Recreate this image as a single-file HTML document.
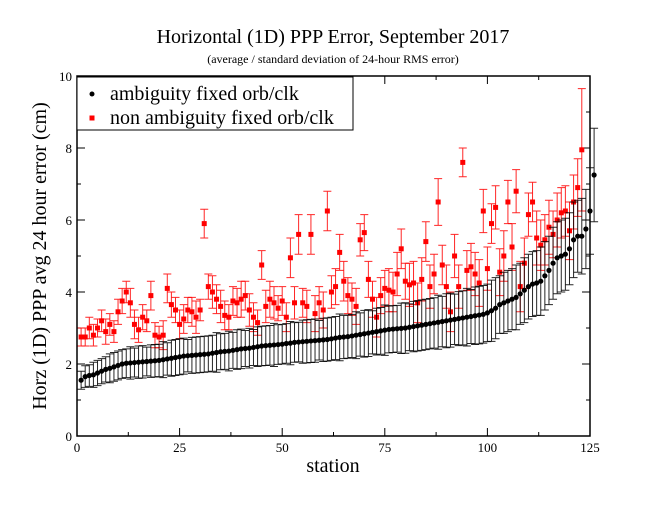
<!DOCTYPE html>
<html><head><meta charset="utf-8"><style>
body{margin:0;background:#fff;}
svg{display:block;font-family:"Liberation Serif",serif;}
</style></head><body>
<svg id="chart" width="664" height="513" viewBox="0 0 664 513" xmlns="http://www.w3.org/2000/svg">
<text x="333" y="43" font-size="20" text-anchor="middle">Horizontal (1D) PPP Error, September 2017</text>
<text x="333" y="63" font-size="12" text-anchor="middle">(average / standard deviation of 24-hour RMS error)</text>
<text transform="translate(46,256) rotate(-90)" font-size="20" text-anchor="middle">Horz (1D) PPP avg 24 hour error (cm)</text>
<text x="333" y="472" font-size="20" text-anchor="middle">station</text>
<g id="grid"></g>
<g id="marks"></g>
<rect x="77" y="76" width="513" height="360" fill="none" stroke="#000" stroke-width="1.5"/>
<g>
<rect x="77" y="77" width="276" height="53" fill="#fff" stroke="#000" stroke-width="1"/>
<circle cx="92" cy="94" r="2.5" fill="#000"/>
<text x="110" y="100" font-size="20">ambiguity fixed orb/clk</text>
<rect x="89.5" y="115.5" width="5" height="5" fill="#f00"/>
<text x="110" y="124" font-size="20">non ambiguity fixed orb/clk</text>
</g>
</svg>
<script>
const fixedVals=[1.55,1.65,1.68,1.7,1.75,1.8,1.85,1.88,1.92,1.96,2.0,2.02,2.03,2.04,2.05,2.06,2.07,2.08,2.09,2.1,2.12,2.14,2.16,2.18,2.2,2.22,2.23,2.24,2.25,2.26,2.27,2.28,2.3,2.32,2.34,2.35,2.36,2.38,2.4,2.42,2.43,2.44,2.46,2.48,2.5,2.51,2.52,2.53,2.54,2.55,2.57,2.58,2.6,2.61,2.62,2.63,2.64,2.65,2.66,2.67,2.68,2.7,2.72,2.74,2.75,2.76,2.78,2.8,2.82,2.84,2.86,2.88,2.9,2.92,2.94,2.96,2.97,2.98,2.99,3.0,3.02,3.04,3.06,3.08,3.1,3.12,3.14,3.16,3.18,3.2,3.22,3.24,3.26,3.28,3.3,3.32,3.34,3.36,3.38,3.42,3.48,3.55,3.65,3.7,3.75,3.8,3.85,3.95,4.05,4.15,4.22,4.25,4.3,4.45,4.6,4.8,4.95,5.0,5.05,5.2,5.45,5.55,5.55,5.75,6.25,7.25];
const fixedErr=[0.25,0.3,0.3,0.35,0.35,0.35,0.35,0.4,0.4,0.4,0.4,0.4,0.45,0.4,0.45,0.45,0.4,0.45,0.45,0.45,0.5,0.45,0.5,0.5,0.5,0.5,0.45,0.5,0.5,0.5,0.5,0.5,0.5,0.55,0.5,0.5,0.55,0.5,0.55,0.55,0.5,0.55,0.5,0.55,0.55,0.55,0.55,0.6,0.55,0.55,0.55,0.6,0.55,0.55,0.6,0.6,0.6,0.6,0.55,0.6,0.6,0.6,0.6,0.65,0.6,0.6,0.6,0.65,0.6,0.65,0.65,0.6,0.65,0.65,0.7,0.65,0.65,0.65,0.7,0.7,0.65,0.7,0.7,0.7,0.7,0.7,0.7,0.75,0.7,0.75,0.75,0.7,0.75,0.75,0.8,0.75,0.8,0.8,0.8,0.8,0.85,0.85,0.8,0.85,0.85,0.85,0.9,0.85,0.9,0.9,0.9,0.9,0.95,0.95,0.95,1.0,1.0,1.0,1.0,1.0,1.05,1.0,1.05,1.1,1.2,1.3];
const nonfixedVals=[2.75,2.75,3.0,2.8,3.0,3.2,2.9,3.1,2.9,3.45,3.75,4.0,3.7,3.1,2.95,3.3,3.2,3.9,2.8,2.75,2.8,4.1,3.65,3.5,3.1,3.25,3.5,3.45,3.3,3.5,5.9,4.15,4.0,3.8,3.6,3.35,3.3,3.75,3.7,3.8,3.9,3.5,3.3,3.15,4.75,3.6,3.8,3.7,3.55,3.75,3.3,4.95,3.7,5.6,3.7,3.6,5.6,3.4,3.7,3.5,6.25,4.0,4.15,5.1,4.3,3.9,3.8,3.6,5.45,5.65,4.35,3.8,3.3,3.9,4.1,4.05,4.0,4.5,5.2,4.3,4.2,4.25,3.7,4.35,5.4,4.15,4.5,6.5,4.75,4.15,3.45,5.0,4.15,7.6,4.6,4.7,4.5,4.25,6.25,4.65,5.9,6.35,4.55,5.0,6.5,5.25,6.8,4.15,4.8,6.15,6.5,5.5,5.3,5.45,5.8,5.6,6.0,6.2,6.25,5.7,6.5,6.9,7.95];
const nonfixedErr=[0.25,0.25,0.3,0.3,0.25,0.3,0.35,0.3,0.3,0.35,0.35,0.3,0.4,0.4,0.35,0.35,0.3,0.4,0.35,0.3,0.4,0.4,0.35,0.35,0.4,0.4,0.35,0.4,0.45,0.3,0.4,0.35,0.45,0.4,0.45,0.4,0.35,0.4,0.4,0.5,0.4,0.45,0.4,0.35,0.4,0.45,0.5,0.45,0.35,0.4,0.4,0.55,0.45,0.55,0.4,0.45,0.55,0.5,0.45,0.5,0.55,0.45,0.5,0.5,0.55,0.5,0.45,0.5,0.45,0.5,0.5,0.5,0.55,0.5,0.5,0.6,0.55,0.6,0.55,0.5,0.6,0.6,0.55,0.6,0.55,0.6,0.55,0.65,0.55,0.6,0.55,0.6,0.6,0.4,0.55,0.65,0.6,0.65,0.6,0.6,0.55,0.6,0.65,0.7,0.6,0.65,0.6,0.7,0.7,0.6,0.55,0.75,0.7,0.7,0.75,0.65,0.75,0.7,0.7,0.8,0.75,0.8,1.7];
const xTicks=[0,25,50,75,100,125];
const yTicks=[0,2,4,6,8,10];
const NS="http://www.w3.org/2000/svg";
const X0=77,X1=590,Y0=436,Y1=76;
function xs(v){return X0+(v/125)*(X1-X0);}
function ys(v){return Y0-(v/10)*(Y0-Y1);}
function mk(tag,attrs,parent){const e=document.createElementNS(NS,tag);for(const k in attrs)e.setAttribute(k,attrs[k]);parent.appendChild(e);return e;}
const grid=document.getElementById('grid');
const marks=document.getElementById('marks');
xTicks.forEach(t=>{
  const x=xs(t);
  const l=mk('line',{x1:x,x2:x,y1:Y0,y2:Y0-8,stroke:'#000','stroke-width':1},grid);
  
  
  const l2=mk('line',{x1:x,x2:x,y1:Y1,y2:Y1+8,stroke:'#000','stroke-width':1},grid);
  
  
  const tx=mk('text',{x:x,y:Y0+16,'font-size':13,'text-anchor':'middle'},grid);
  tx.textContent=t;
  
  
  if(t<125){[t+12.5].forEach(m=>{
    const a=mk('line',{x1:xs(m),x2:xs(m),y1:Y0,y2:Y0-4,stroke:'#000'},grid);
    
    
    const b=mk('line',{x1:xs(m),x2:xs(m),y1:Y1,y2:Y1+4,stroke:'#000'},grid);
    
    
  });}
});
yTicks.forEach(t=>{
  const y=ys(t);
  const l=mk('line',{x1:X0,x2:X0+8,y1:y,y2:y,stroke:'#000'},grid);
  
  
  const l2=mk('line',{x1:X1,x2:X1-8,y1:y,y2:y,stroke:'#000'},grid);
  
  
  const tx=mk('text',{x:X0-5,y:y+5,'font-size':13,'text-anchor':'end'},grid);
  tx.textContent=t;
  
  
  if(t<10){
    const a=mk('line',{x1:X0,x2:X0+4,y1:ys(t+1),y2:ys(t+1),stroke:'#000'},grid);
    
    
    const b=mk('line',{x1:X1,x2:X1-4,y1:ys(t+1),y2:ys(t+1),stroke:'#000'},grid);
    
    
  }
});
function series(vals,errs,color,isSquare,name){
  const g=mk('g',{},marks);
  
  
  vals.forEach((v,i)=>{
    const x=xs(i+1),y=ys(v),e=errs[i];
    const yt=ys(v+e),yb=ys(v-e);
    const eb=mk('path',{d:`M${x},${yt}V${yb}M${x-4},${yt}H${x+4}M${x-4},${yb}H${x+4}`,stroke:color,'stroke-width':1,fill:'none','stroke-opacity':0.85},g);
    
    
  });
  vals.forEach((v,i)=>{
    const x=xs(i+1),y=ys(v);
    let m;
    if(isSquare){m=mk('rect',{x:x-2.5,y:y-2.5,width:5,height:5,fill:color},g);}
    else{m=mk('circle',{cx:x,cy:y,r:2.6,fill:color},g);}
    
    
  });
}
series(nonfixedVals,nonfixedErr,'#f00',true,'nonfixed');
series(fixedVals,fixedErr,'#000',false,'fixed');
</script>
</body></html>
